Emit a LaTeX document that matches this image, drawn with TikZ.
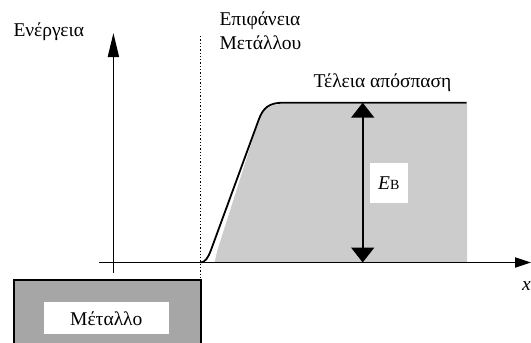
\documentclass[tikz,border=0pt]{standalone}
\usepackage{fontspec}
\setmainfont{Liberation Serif}
\usetikzlibrary{arrows.meta}
\definecolor{metal}{RGB}{166,166,166}
\definecolor{light}{RGB}{204,204,204}
\tikzset{
  lbl/.style={inner sep=0pt, font=\fontsize{19.5}{23.4}\selectfont},
  axis/.style={line width=1.8pt},
  curve/.style={line width=1.8pt, line join=round},
}
\begin{document}
\begin{tikzpicture}[x=1pt,y=-1pt]
\useasboundingbox (0,0) rectangle (531,343);
% gray region
\fill[light] (214.5,262.5) -- (217.5,250) -- (257.5,124) .. controls (262,110) and (269,104) .. (283,104) -- (467,104) -- (467,262.5) -- cycle;
% metal block
\fill[metal] (14,280) rectangle (201,343);
\draw[line width=1.8pt] (14,343) -- (14,280) -- (201,280) -- (201,343);
\node[fill=white, minimum width=124.6pt, minimum height=32pt, inner sep=0pt, font=\fontsize{19.5}{23.4}\selectfont] (metal) at (106.3,318.3) {Μέταλλο};
% dotted surface line
\coordinate (st) at (200.7,36);
\coordinate (sb) at (200.7,343);
\draw[dotted, line width=1.3pt] (st) -- (sb);
% axes
\coordinate (xs) at (99,262.5);
\coordinate (xe) at (531,262.5);
\coordinate (ys) at (113.4,273);
\coordinate (ye) at (113.4,33);
\draw[axis, -{Triangle[length=16pt,width=10pt]}] (xs) -- (xe);
\draw[axis, -{Triangle[length=24pt,width=11pt]}] (ys) -- (ye);
% potential curve
\draw[curve] (200.5,262.5) .. controls (205,262.5) and (208,258) .. (211,250) -- (258.8,119.5) .. controls (263,108) and (269,102.7) .. (283,102.7) -- (466.5,102.7);
% EB arrow
\coordinate (at) at (362.7,102.7);
\coordinate (ab) at (362.7,262.5);
\draw[line width=1.8pt, {Triangle[length=15pt,width=23pt]}-{Triangle[length=15pt,width=23pt]}] (at) -- (ab);
\node[fill=white, minimum width=37.7pt, minimum height=40.6pt, inner sep=0pt, font=\fontsize{19.5}{23.4}\selectfont] (eb) at (388.8,183) {\itshape E\upshape\fontsize{14}{16}\selectfont B};
% labels
\node[lbl, anchor=west] (en) at (13.3,31.7) {Ενέργεια};
\node[lbl, anchor=west, align=left] (surf) at (219.3,30.5) {Επιφάνεια\\[1pt]Μετάλλου};
\node[lbl, anchor=west] (det) at (313.3,82.7) {Τέλεια απόσπαση};
\node[lbl, anchor=center] (x) at (526.5,286) {\itshape x};
\end{tikzpicture}
\end{document}
